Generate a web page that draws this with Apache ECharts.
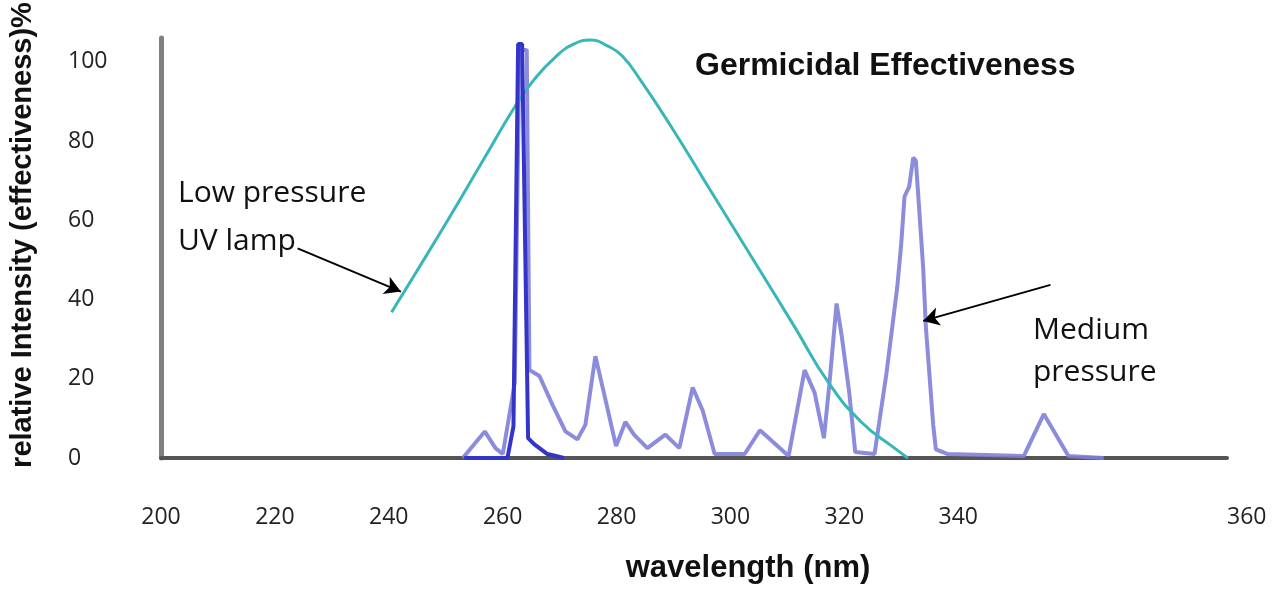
<!DOCTYPE html>
<html><head><meta charset="utf-8">
<script src="https://cdn.jsdelivr.net/npm/echarts@6/dist/echarts.min.js"></script>
<style>html,body{margin:0;padding:0;background:#fff}#c{width:1275px;height:589px}</style>
</head><body><div id="c"></div>
<script>
// wavelength (nm), relative value (%)
const germicidal = [[234.6,36.8],[238.3,46.9],[243.4,61],[248.3,75],[253.2,88.9],[256,95.5],[259.2,101.2],[262,104.5],[264.5,105.5],[267,104],[269.2,101.5],[272.2,94.8],[276.7,83.3],[281.9,69.1],[290.2,46.5],[295.1,33.1],[300.2,19],[305.1,9.1],[310.1,2.5],[312.1,0]];
const mediumPressure = [[245.3,0],[248.6,6.7],[250.2,2.5],[251.3,1],[253.1,19],[253.8,103],[254.9,103],[255.3,22.2],[256.8,20.7],[258.8,13.3],[260.7,6.7],[262.5,4.7],[263.7,8.4],[265.2,25.7],[266.7,14.8],[268.3,3],[269.7,9.1],[271,5.9],[273,2.5],[275.7,5.9],[277.8,2.5],[279.8,17.8],[281.3,12],[283.1,1],[287.6,1],[289.9,7],[294.2,0.5],[296.6,22.2],[298.1,16.5],[299.5,5],[300.3,18.3],[301.4,39],[302.2,30.5],[303.3,16.5],[304.2,1.5],[307.1,1],[308.9,21.5],[310.5,43],[311.1,54],[311.6,66],[312.3,68.5],[312.9,75.8],[313.3,75],[313.6,67.7],[314.4,47.9],[314.8,33.1],[315.9,8.4],[316.3,2.2],[318.1,1],[329.5,0.5],[332.5,11.1],[336.2,0.5],[341.5,0]];
const lowPressure = [[245.5,0],[252,0],[252.9,8],[253.6,104.5],[254.2,104.5],[255.1,5],[256,3.5],[258,1],[260.5,0]];
// tick labels as printed under the axis
const xTickLabels = [200,220,240,260,280,300,320,340];
const xEndLabel = 360;
const yTickLabels = [0,20,40,60,80,100];
// annotation arrows: [from, to] in (nm, %)
const arrowLow = [[220.5,52.9],[236.0,42.0]];
const arrowMedium = [[333.5,43.7],[314.4,34.6]];

const chart = echarts.init(document.getElementById('c'), null, {renderer:'canvas'});
const tickFont = {fontFamily:'Open Sans', fontSize:23, color:'#222'};
chart.setOption({
  animation:false,
  backgroundColor:'#fff',
  title:{text:'Germicidal Effectiveness', left:690, top:45,
    textStyle:{fontFamily:'Liberation Sans', fontWeight:'bold', fontSize:32, color:'#111'}},
  grid:{left:157, right:48, top:38, bottom:122},
  xAxis:[{
    type:'value', min:200, max:360, position:'bottom',
    axisLine:{show:true, lineStyle:{color:'#555', width:4}},
    axisTick:{show:false}, splitLine:{show:false},
    axisLabel:Object.assign({customValues:[xEndLabel], align:'left', margin:48}, tickFont),
    name:'wavelength (nm)', nameLocation:'middle', nameGap:95,
    nameTextStyle:{fontFamily:'Liberation Sans', fontWeight:'bold', fontSize:31, color:'#111', padding:[0,0,0,108]}
  },{
    type:'value', min:200, max:387.2, position:'bottom',
    axisLine:{show:false}, axisTick:{show:false}, splitLine:{show:false},
    axisLabel:Object.assign({customValues:xTickLabels, margin:48}, tickFont)
  }],
  yAxis:{
    type:'value', min:0, max:106, interval:20,
    axisLine:{show:true, lineStyle:{color:'#808080', width:5}},
    axisTick:{show:false}, splitLine:{show:false},
    axisLabel:Object.assign({customValues:yTickLabels, align:'left', margin:93}, tickFont),
    name:'relative Intensity (effectiveness)%', nameLocation:'middle', nameGap:124, nameRotate:90,
    nameTextStyle:{fontFamily:'Liberation Sans', fontWeight:'bold', fontSize:29, color:'#111', padding:[0,0,0,26]}
  },
  series:[{
    name:'Medium pressure', type:'line', data:mediumPressure, showSymbol:false, z:2,
    lineStyle:{color:'#7f7fd9', width:4, opacity:0.9}
  },{
    name:'Germicidal Effectiveness', type:'line', data:germicidal, showSymbol:false, smooth:0.5, z:3,
    lineStyle:{color:'#38b6b8', width:3},
    markLine:{silent:true, symbol:['none','arrow'], symbolSize:[14,16], label:{show:false},
      lineStyle:{color:'#000', width:2, type:'solid'},
      data:[[{coord:arrowLow[0]},{coord:arrowLow[1]}],[{coord:arrowMedium[0]},{coord:arrowMedium[1]}]]}
  },{
    name:'Low pressure UV lamp', type:'line', data:lowPressure, showSymbol:false, z:4,
    lineStyle:{color:'#3434c8', width:4}
  }],
  graphic:[
    {type:'text', left:178, top:169, style:{text:'Low pressure\nUV lamp', fontFamily:'Open Sans', fontSize:30, lineHeight:48, fill:'#111'}},
    {type:'text', left:1033, top:309, style:{text:'Medium\npressure', fontFamily:'Open Sans', fontSize:30, lineHeight:42, fill:'#111'}}
  ]
});
</script></body></html>
